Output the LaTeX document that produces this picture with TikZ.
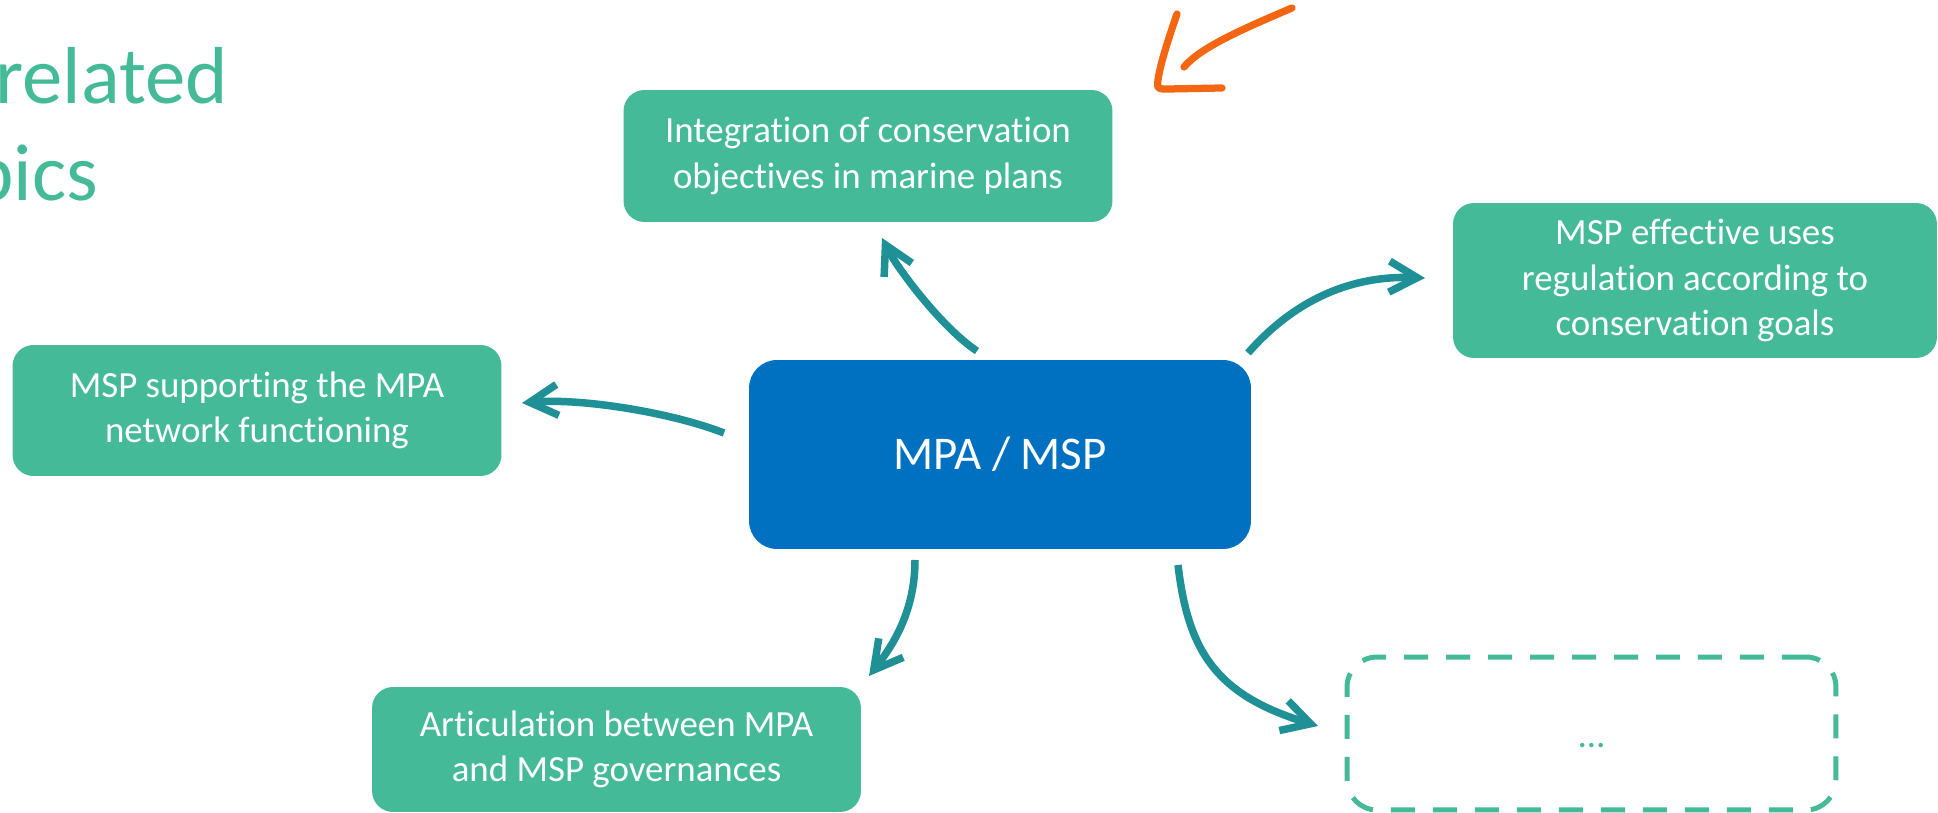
\documentclass[tikz,border=0pt]{standalone}
\usepackage{fontspec}
\setmainfont{Carlito}[Ligatures={NoCommon}]
\usetikzlibrary{arrows.meta}
\definecolor{boxgreen}{RGB}{68,186,152}
\definecolor{mpablue}{RGB}{0,112,192}
\definecolor{arrteal}{RGB}{31,145,150}
\definecolor{penorange}{RGB}{245,102,18}
\begin{document}
\begin{tikzpicture}[x=0.02cm,y=-0.02cm,
  topic/.style={fill=boxgreen, rounded corners=0.42cm, text=white,
    font=\fontsize{21}{26}\selectfont, align=center, inner sep=0pt,
    minimum width=9.78cm},
  hub/.style={fill=mpablue, rounded corners=0.56cm, text=white,
    font=\fontsize{26.7}{32}\selectfont, inner sep=0pt,
    minimum width=10.04cm, minimum height=3.78cm},
  openbox/.style={draw=boxgreen, line width=0.1cm, rounded corners=0.6cm,
    dash pattern=on 0.48cm off 0.36cm, inner sep=0pt,
    minimum width=9.78cm, minimum height=3.06cm},
  conn/.style={draw=arrteal, line width=0.15cm,
    -{Straight Barb[length=0.56cm, width=0.62cm]}},
  pen/.style={draw=penorange, line width=0.145cm, line cap=round, line join=round},
  titletext/.style={anchor=base west, inner sep=0pt, text=boxgreen,
    font=\fontsize{46}{56}\selectfont}]
\useasboundingbox (0,0) rectangle (1938,813);

% title fragments
\node[titletext] (t1) at (-5,104) {related};
\node[titletext] (t2) at (-29,201) {pics};

% boxes
\node[hub] (mpa) at (1000,454.5) {MPA / MSP};
\node[topic, minimum height=2.64cm] (top) at (868,156)
  {Integration of conservation\\objectives in marine plans};
\node[topic, minimum width=9.68cm, minimum height=3.1cm] (right) at (1695,280.5)
  {MSP effective uses\\regulation according to\\conservation goals};
\node[topic, minimum height=2.62cm] (left) at (257,410.5)
  {MSP supporting the MPA\\network functioning};
\node[topic, minimum height=2.5cm] (bottom) at (616.5,749.5)
  {Articulation between MPA\\and MSP governances};
\node[openbox] (more) at (1591.5,733.5) {};
\node[anchor=base, inner sep=0pt, text=boxgreen, font=\fontsize{21}{26}\selectfont]
  (dots) at (1591.5,748) {…};

% connector end points
\coordinate (s1) at (977,351);  \coordinate (e1) at (882,238);
\coordinate (s2) at (1248,353); \coordinate (e2) at (1425,278);
\coordinate (s3) at (724,433);  \coordinate (e3) at (522,403);
\coordinate (s4) at (915,560);  \coordinate (e4) at (869,676);
\coordinate (s5) at (1178,565); \coordinate (e5) at (1318,726);

\draw[conn] (s1) .. controls (942,328) and (897,268) .. (e1);
\draw[conn] (s2) .. controls (1290,305) and (1345,275) .. (e2);
\draw[conn] (s3) .. controls (670,412) and (580,398) .. (e3);
\draw[conn] (s4) .. controls (915,610) and (894,644) .. (e4);
\draw[conn] (s5) .. controls (1188,650) and (1215,695) .. (e5);

% hand-drawn orange arrow
\draw[pen] (1292,8) .. controls (1240,30) and (1200,48) .. (1184,67);
\draw[pen] (1177,14) .. controls (1168,40) and (1160,65) .. (1158,80)
  .. controls (1157,89) .. (1168,89) -- (1222,88);
\end{tikzpicture}
\end{document}
